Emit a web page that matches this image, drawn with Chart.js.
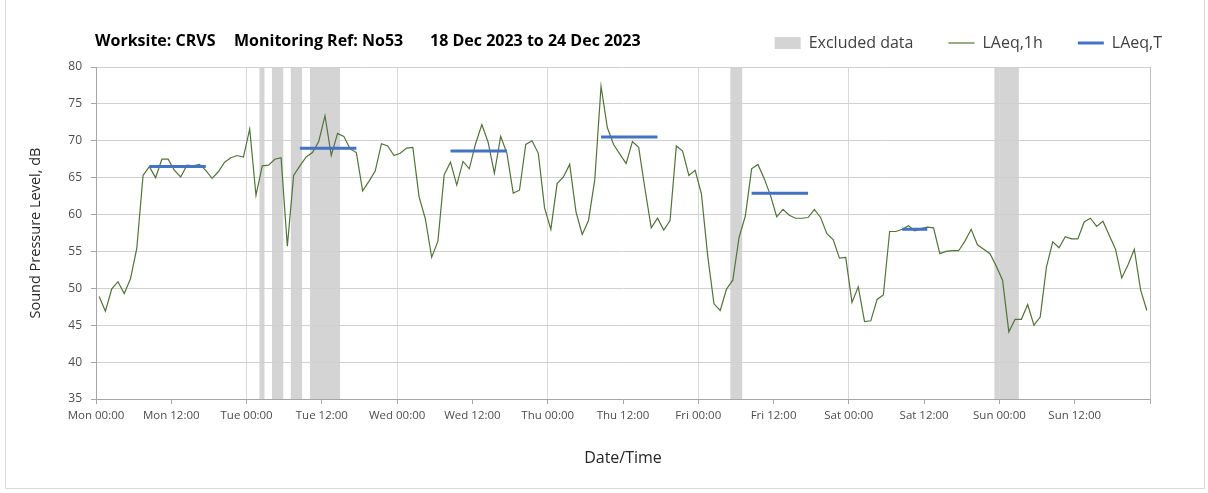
<!DOCTYPE html>
<html>
<head>
<meta charset="utf-8">
<script src="https://cdn.jsdelivr.net/npm/chart.js@4.4.1/dist/chart.umd.min.js"></script>
<style>
  body { margin: 0; background: #fff; }
  #wrap { position: relative; width: 1208px; height: 493px; }
  #frame { position: absolute; left: 5px; top: 0; width: 1198px; height: 488px; border: 1px solid #d9d9d9; border-top: none; }
  #myChart { position: absolute; left: 0; top: 0; }
  .ttl { position: absolute; top: 29px; line-height: 20px; font: bold 16px "Open Sans", sans-serif; color: #000; white-space: nowrap; }
</style>
</head>
<body>
<div id="wrap">
  <div id="frame"></div>
  <canvas id="myChart" width="1208" height="493"></canvas>
  <span class="ttl" style="left:95px">Worksite: CRVS</span>
  <span class="ttl" style="left:234px">Monitoring Ref: No53</span>
  <span class="ttl" style="left:430px">18 Dec 2023 to 24 Dec 2023</span>
</div>
<script>
// tick labels
const dayNames = ['Mon', 'Tue', 'Wed', 'Thu', 'Fri', 'Sat', 'Sun'];
const tickTimes = ['00:00', '12:00'];

// hourly LAeq,1h, Mon 00:00 .. Sun 23:00 (one value per hour)
const laeq1h = [
  48.9, 46.9, 49.9, 50.9, 49.3, 51.3, 55.4, 65.3, 66.5, 65.0,
  67.5, 67.5, 66.0, 65.1, 66.7, 66.6, 66.8, 66.0, 64.9, 65.8,
  67.1, 67.7, 68.0, 67.8, 71.6, 62.6, 66.6, 66.7, 67.5, 67.7,
  55.7, 65.3, 66.6, 67.8, 68.4, 69.9, 73.4, 68.0, 71.0, 70.6,
  68.9, 68.4, 63.2, 64.5, 65.9, 69.6, 69.3, 68.0, 68.3, 69.0,
  69.1, 62.4, 59.4, 54.2, 56.4, 65.4, 67.1, 64.0, 67.2, 66.2,
  69.6, 72.2, 69.8, 65.6, 70.6, 68.3, 62.9, 63.3, 69.5, 70.0,
  68.3, 60.9, 58.0, 64.2, 65.1, 66.8, 60.4, 57.3, 59.2, 64.7,
  77.4, 71.8, 69.5, 68.2, 66.9, 69.9, 69.1, 63.5, 58.2, 59.5,
  57.9, 59.2, 69.3, 68.6, 65.3, 66.0, 62.8, 54.4, 47.9, 47.0,
  49.9, 51.1, 56.9, 59.8, 66.2, 66.8, 64.9, 62.6, 59.7, 60.7,
  59.9, 59.5, 59.5, 59.6, 60.7, 59.6, 57.4, 56.6, 54.1, 54.2,
  48.1, 50.2, 45.5, 45.6, 48.5, 49.1, 57.7, 57.7, 58.0, 58.5,
  57.8, 58.1, 58.3, 58.2, 54.7, 55.0, 55.1, 55.1, 56.4, 58.0,
  55.9, 55.3, 54.7, 53.0, 51.1, 44.1, 45.8, 45.8, 47.8, 45.0,
  46.1, 52.9, 56.3, 55.5, 57.0, 56.7, 56.7, 59.0, 59.5, 58.4,
  59.1, 57.2, 55.3, 51.4, 53.2, 55.3, 49.8, 47.0
];

// LAeq,T periods (first and last hour, level)
const periodFirstHour = [8, 32, 56, 80, 104, 128];
const periodLastHour = [17, 41, 65, 89, 113, 132];
const periodLevel = [66.5, 69.0, 68.6, 70.5, 62.9, 58.0];

// excluded data (hours from Mon 00:00)
const excludedFrom = [26.05, 28.05, 31.05, 34.1, 101.1, 143.2];
const excludedTo = [26.85, 29.85, 32.85, 38.9, 103.0, 147.1];

const bandColor = '#d4d4d4';

const laeq1hData = laeq1h.map((v, h) => ({x: h + 0.5, y: v}));
const laeqTData = [];
periodLevel.forEach((lvl, i) => {
  for (let h = periodFirstHour[i]; h <= periodLastHour[i]; h++) {
    laeqTData.push({x: h + 0.5, y: lvl});
  }
  laeqTData.push({x: periodLastHour[i] + 1, y: null});
});

// grey columns behind the grid for excluded hours
const excludedBands = {
  id: 'excludedBands',
  beforeDraw(chart) {
    const {ctx, chartArea, scales: {x}} = chart;
    ctx.save();
    ctx.fillStyle = bandColor;
    for (let i = 0; i < excludedFrom.length; i++) {
      const x1 = x.getPixelForValue(excludedFrom[i]);
      const x2 = x.getPixelForValue(excludedTo[i]);
      ctx.fillRect(x1, chartArea.top, x2 - x1, chartArea.bottom - chartArea.top);
    }
    ctx.restore();
  }
};

const ctx = document.getElementById('myChart');

new Chart(ctx, {
  type: 'line',
  data: {
    datasets: [{
      label: 'Excluded data',
      data: [],
      legendStyle: 'rect',
      backgroundColor: bandColor,
      borderColor: bandColor,
      borderWidth: 0,
      order: 2
    }, {
      label: 'LAeq,1h',
      data: laeq1hData,
      legendStyle: 'line',
      borderColor: '#52733a',
      backgroundColor: '#52733a',
      borderWidth: 1.2,
      pointRadius: 0,
      tension: 0,
      xAxisID: 'x',
      yAxisID: 'y',
      order: 1
    }, {
      label: 'LAeq,T',
      data: laeqTData,
      legendStyle: 'line',
      borderColor: '#4472c4',
      backgroundColor: '#4472c4',
      borderWidth: 3,
      pointRadius: 0,
      xAxisID: 'x',
      yAxisID: 'y',
      order: 0
    }]
  },
  options: {
    responsive: false,
    animation: false,
    layout: { padding: { left: 0, right: 11, top: 0, bottom: 0 } },
    plugins: {
      tooltip: { enabled: false },
      legend: {
        position: 'top',
        align: 'end',
        labels: {
          usePointStyle: true,
          pointStyleWidth: 26,
          boxHeight: 12,
          padding: 35,
          color: '#404040',
          font: { family: 'Open Sans', size: 16 },
          generateLabels: chart => chart.data.datasets.map((ds, i) => ({
            text: ds.label,
            datasetIndex: i,
            pointStyle: ds.legendStyle,
            fillStyle: ds.backgroundColor,
            strokeStyle: ds.borderColor,
            lineWidth: ds.legendStyle == 'rect' ? 0 : ds.borderWidth,
            fontColor: '#404040',
            hidden: false
          }))
        }
      }
    },
    scales: {
      x: {
        type: 'linear',
        position: 'bottom',
        min: 0,
        max: 168,
        afterFit: s => { s.height = 94; },
        afterBuildTicks: s => {
          s.ticks = [];
          for (let v = 0; v <= 168; v += 12) s.ticks.push({value: v});
        },
        ticks: {
          autoSkip: false,
          maxRotation: 0,
          padding: 5,
          color: '#4d4d4d',
          font: { family: 'Open Sans', size: 11.5 },
          callback: v => v >= 168 ? '' : dayNames[Math.floor(v / 24)] + ' ' + tickTimes[(v % 24) / 12]
        },
        grid: {
          tickLength: 5,
          tickColor: '#a6a6a6',
          color: c => c.tick.value == 168 ? '#bfbfbf' : (c.tick.value % 24 == 0 ? '#d9d9d9' : 'rgba(0,0,0,0)')
        },
        border: { color: '#a6a6a6' },
        title: {
          display: true,
          text: 'Date/Time',
          color: '#262626',
          font: { family: 'Open Sans', size: 16 },
          padding: { top: 0, bottom: 25 }
        }
      },
      y: {
        position: 'left',
        min: 35,
        max: 80,
        afterFit: s => { s.width = 96; },
        ticks: {
          stepSize: 5,
          padding: 9,
          color: '#4d4d4d',
          font: { family: 'Open Sans', size: 12 }
        },
        grid: { tickLength: 5, tickColor: '#a6a6a6', color: '#d0d0d0' },
        border: { color: '#a6a6a6' },
        title: {
          display: true,
          text: 'Sound Pressure Level, dB',
          color: '#262626',
          font: { family: 'Open Sans', size: 14.5 },
          padding: { top: 27, bottom: 0 }
        }
      },
      topGap: {
        type: 'linear',
        position: 'top',
        display: true,
        afterFit: s => { s.height = 6; },
        grid: { display: false },
        border: { display: false },
        ticks: { display: false }
      },
      rightGap: {
        type: 'linear',
        position: 'right',
        display: true,
        afterFit: s => { s.width = 47; },
        grid: { display: false },
        border: { display: false },
        ticks: { display: false }
      }
    }
  },
  plugins: [excludedBands]
});
</script>
</body>
</html>
